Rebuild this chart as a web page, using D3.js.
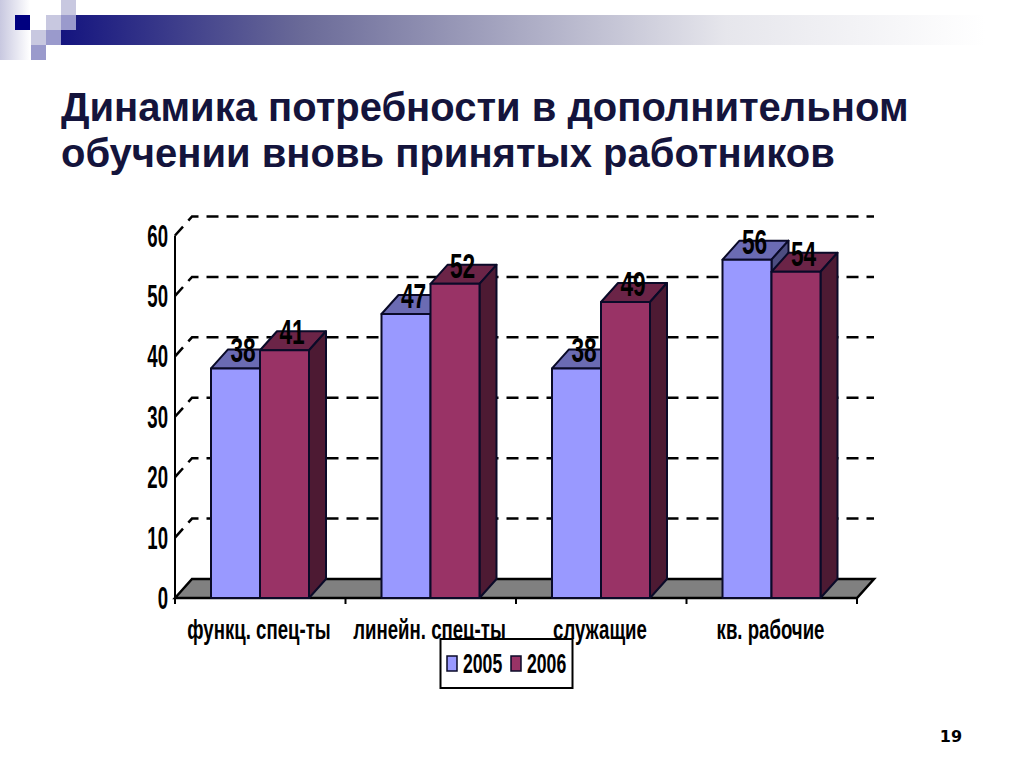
<!DOCTYPE html>
<html>
<head>
<meta charset="utf-8">
<style>
  html, body { margin: 0; padding: 0; background: #fff; }
  svg { display: block; }
  text { font-family: "Liberation Sans", Arial, sans-serif; font-weight: bold; }
</style>
<script src="https://cdn.jsdelivr.net/npm/d3@7"></script>
</head>
<body>
<div id="chart"></div>
<script>
const titleLines = ["Динамика потребности в дополнительном", "обучении вновь принятых работников"];
const categories = ["функц. спец-ты", "линейн. спец-ты", "служащие", "кв. рабочие"];
const years = ["2005", "2006"];
const values2005 = [38, 47, 38, 56];
const values2006 = [41, 52, 49, 54];
const yTicks = [0, 10, 20, 30, 40, 50, 60];
const pageNumber = "19";

const width = 1024, height = 768;
const depth = {x: 17, y: 19}; // offset of the back wall

const colors = {
    2005: {front: "#9999ff", top: "#6b6bb3", side: "#4d4d80"},
    2006: {front: "#993366", top: "#6b2447", side: "#4d1a33"}
};

const svg = d3.select("#chart").append("svg")
    .attr("width", width)
    .attr("height", height)
    .attr("viewBox", [0, 0, width, height]);

const x = d3.scaleBand().domain(categories).range([175, 857]);
const xInner = d3.scaleBand().domain(years).range([36, 134]);
const y = d3.scaleLinear().domain([0, 60]).range([598, 235.5]);

const rows = categories.flatMap((c, i) => [
    {category: c, year: "2005", value: values2005[i]},
    {category: c, year: "2006", value: values2006[i]}
]);

// narrow text: the original chart text is stretched tall
function squeezed(g, px, py, str, size, sx, anchor) {
    return g.append("text")
        .attr("transform", `translate(${px},${py}) scale(${sx},1)`)
        .attr("text-anchor", anchor || "middle")
        .attr("font-size", size)
        .attr("fill", "#000")
        .text(str);
}

function drawHeader() {
    const defs = svg.append("defs");
    const bar = defs.append("linearGradient").attr("id", "barGrad");
    bar.append("stop").attr("offset", 0).attr("stop-color", "#14147f");
    bar.append("stop").attr("offset", 0.25).attr("stop-color", "#6a6a98");
    bar.append("stop").attr("offset", 0.69).attr("stop-color", "#e6e6ec");
    bar.append("stop").attr("offset", 0.96).attr("stop-color", "#ffffff");
    const side = defs.append("linearGradient").attr("id", "sideGrad");
    side.append("stop").attr("offset", 0).attr("stop-color", "#c8c8e0");
    side.append("stop").attr("offset", 1).attr("stop-color", "#ffffff");

    const g = svg.append("g");
    g.append("rect").attr("x", 0).attr("y", 0).attr("width", 30).attr("height", 60).attr("fill", "url(#sideGrad)");
    g.append("rect").attr("x", 61).attr("y", 15).attr("width", 963).attr("height", 30).attr("fill", "url(#barGrad)");

    const squares = [
        [15, 15, "#000080"], [46, 15, "#c8c8e0"], [61, 15, "#9a9acc"], [61, 0, "#c8c8e0"],
        [31, 30, "#c8c8e0"], [46, 30, "#9a9acc"], [31, 45, "#9a9acc"]
    ];
    g.selectAll("rect.sq").data(squares).join("rect")
        .attr("class", "sq")
        .attr("x", d => d[0]).attr("y", d => d[1])
        .attr("width", 15).attr("height", 15)
        .attr("fill", d => d[2]);
}

function drawTitle() {
    svg.append("g").selectAll("text").data(titleLines).join("text")
        .attr("x", 61)
        .attr("y", (d, i) => 121 + i * 46)
        .attr("font-size", 40)
        .attr("fill", "#14143c")
        .text(d => d);
}

function drawWalls() {
    const g = svg.append("g");
    const x0 = x.range()[0], x1 = x.range()[1];

    g.append("path")
        .attr("d", `M${x0},${y(0)}L${x0 + depth.x},${y(0) - depth.y}L${x1 + depth.x},${y(0) - depth.y}L${x1},${y(0)}Z`)
        .attr("fill", "#808080")
        .attr("stroke", "#000")
        .attr("stroke-width", 2.5);

    g.selectAll("path.grid").data(yTicks.filter(d => d > 0)).join("path")
        .attr("class", "grid")
        .attr("d", d => `M${x0},${y(d)}L${x0 + depth.x},${y(d) - depth.y}L${x1 + depth.x},${y(d) - depth.y}`)
        .attr("fill", "none")
        .attr("stroke", "#000")
        .attr("stroke-width", 2.5)
        .attr("stroke-dasharray", "12,8");

    g.append("path")
        .attr("d", `M${x0},${y(60)}V${y(0)}H${x1}`)
        .attr("fill", "none")
        .attr("stroke", "#000")
        .attr("stroke-width", 2);

    g.selectAll("line.tick").data([...categories, null]).join("line")
        .attr("class", "tick")
        .attr("x1", d => d === null ? x1 : x(d))
        .attr("x2", d => d === null ? x1 : x(d))
        .attr("y1", y(0))
        .attr("y2", y(0) + 6)
        .attr("stroke", "#000")
        .attr("stroke-width", 2);

    yTicks.forEach(t => squeezed(g, 168, y(t) + 11, String(t), 31, 0.6, "end"));
    categories.forEach(c => squeezed(g, x(c) + 84, 639, c, 27, 0.69));
}

function drawBars() {
    const g = svg.append("g")
        .attr("stroke", "#0a0a28")
        .attr("stroke-width", 2)
        .attr("stroke-linejoin", "round");

    const bar = g.selectAll("g").data(rows).join("g");
    const left = d => x(d.category) + xInner(d.year);
    const w = xInner.bandwidth();

    bar.append("path")
        .attr("fill", d => colors[d.year].top)
        .attr("d", d => `M${left(d)},${y(d.value)}l${depth.x},${-depth.y}h${w}l${-depth.x},${depth.y}Z`);
    bar.append("path")
        .attr("fill", d => colors[d.year].side)
        .attr("d", d => `M${left(d) + w},${y(d.value)}l${depth.x},${-depth.y}V${y(0) - depth.y}L${left(d) + w},${y(0)}Z`);
    bar.append("rect")
        .attr("fill", d => colors[d.year].front)
        .attr("x", left)
        .attr("y", d => y(d.value))
        .attr("width", w)
        .attr("height", d => y(0) - y(d.value));

    const labels = svg.append("g");
    rows.forEach(d => squeezed(labels, left(d) + w / 2 + depth.x / 2 - 1, y(d.value) - 6, String(d.value), 36, 0.63));
}

function drawLegend() {
    const g = svg.append("g");
    g.append("rect")
        .attr("x", 440.5).attr("y", 639).attr("width", 132).attr("height", 49)
        .attr("fill", "#fff").attr("stroke", "#000").attr("stroke-width", 2);
    years.forEach((yr, i) => {
        const lx = 447 + i * 64;
        g.append("rect")
            .attr("x", lx).attr("y", 656).attr("width", 10).attr("height", 15)
            .attr("fill", colors[yr].front).attr("stroke", "#0a0a28").attr("stroke-width", 1.5);
        squeezed(g, lx + 16, 673, yr, 28, 0.63, "start");
    });
}

drawHeader();
drawTitle();
drawWalls();
drawBars();
drawLegend();

svg.append("text")
    .attr("x", 951).attr("y", 742)
    .attr("text-anchor", "middle")
    .attr("font-size", 16)
    .attr("fill", "#000")
    .style("font-family", '"DejaVu Sans", sans-serif')
    .text(pageNumber);
</script>
</body>
</html>
